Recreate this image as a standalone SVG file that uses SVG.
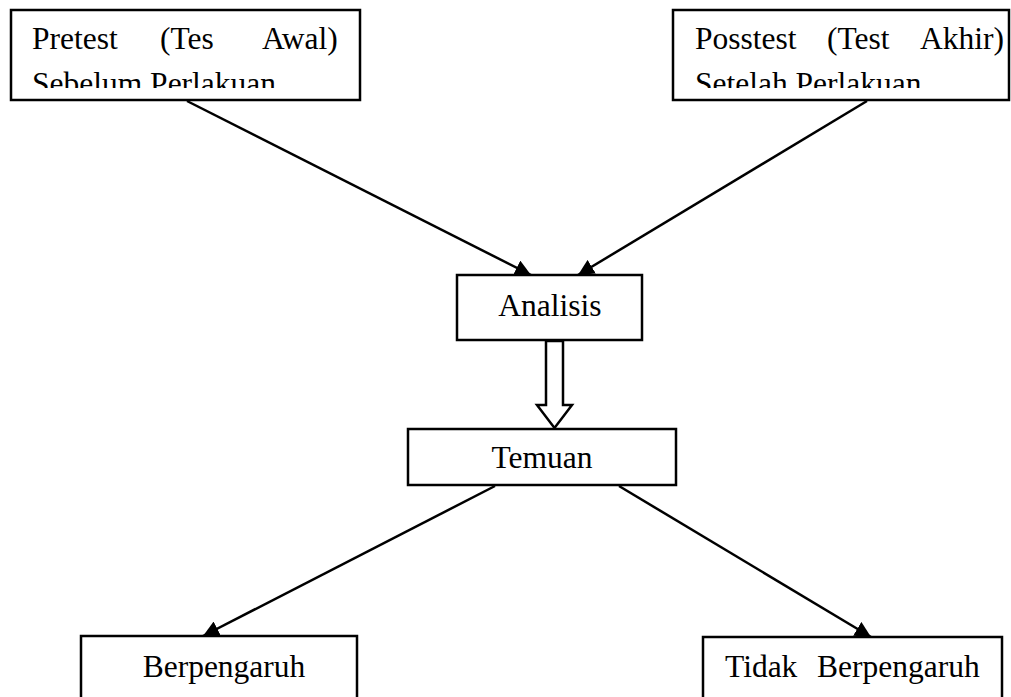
<svg xmlns="http://www.w3.org/2000/svg" width="1011" height="697" viewBox="0 0 1011 697">
  <style>
    .box { fill: #fff; stroke: #000; stroke-width: 2.5; }
    .t { font-family: 'Liberation Serif', 'Times New Roman', 'DejaVu Serif', serif; font-size: 31.5px; fill: #000; }
    .conn { stroke: #000; stroke-width: 2.5; fill: none; }
  </style>
  <defs>
    <marker id="ah" viewBox="0 0 14 14" refX="14" refY="7" markerWidth="16" markerHeight="16" markerUnits="userSpaceOnUse" orient="auto">
      <path d="M0,0 L14,7 L0,14 Z" fill="#000"/>
    </marker>
    <clipPath id="clip1"><rect x="0" y="0" width="1011" height="88"/></clipPath>
  </defs>
  <rect width="1011" height="697" fill="#fff"/>

  <g id="pretest">
    <rect class="box" x="11" y="10" width="349" height="90"/>
    <text class="t" y="49"><tspan x="32">Pretest</tspan><tspan x="160">(Tes</tspan><tspan x="262">Awal)</tspan></text>
    <text class="t" x="32" y="94" clip-path="url(#clip1)">Sebelum Perlakuan</text>
  </g>

  <g id="posttest">
    <rect class="box" x="673" y="10" width="336" height="90"/>
    <text class="t" y="49"><tspan x="695">Posstest</tspan><tspan x="827">(Test</tspan><tspan x="920">Akhir)</tspan></text>
    <text class="t" x="695" y="94" clip-path="url(#clip1)">Setelah Perlakuan</text>
  </g>

  <g id="analisis">
    <rect class="box" x="457" y="275" width="185" height="65"/>
    <text class="t" x="550" y="316" text-anchor="middle">Analisis</text>
  </g>

  <g id="temuan">
    <rect class="box" x="408" y="429" width="268" height="56"/>
    <text class="t" x="542" y="468" text-anchor="middle">Temuan</text>
  </g>

  <g id="berpengaruh">
    <rect class="box" x="81" y="636" width="276" height="80"/>
    <text class="t" x="224" y="677" text-anchor="middle">Berpengaruh</text>
  </g>

  <g id="tidak">
    <rect class="box" x="703" y="637" width="299" height="80"/>
    <text class="t" y="677"><tspan x="725">Tidak</tspan><tspan x="817">Berpengaruh</tspan></text>
  </g>

  <g id="connectors">
    <line class="conn" x1="187" y1="101" x2="531" y2="275" marker-end="url(#ah)"/>
    <line class="conn" x1="867" y1="101" x2="578" y2="275" marker-end="url(#ah)"/>
    <line class="conn" x1="495" y1="486" x2="203" y2="636" marker-end="url(#ah)"/>
    <line class="conn" x1="619" y1="486" x2="871" y2="637" marker-end="url(#ah)"/>
    <polygon class="box" points="546,341 546,405 537,405 554.5,428 572,405 563,405 563,341"/>
  </g>
</svg>
